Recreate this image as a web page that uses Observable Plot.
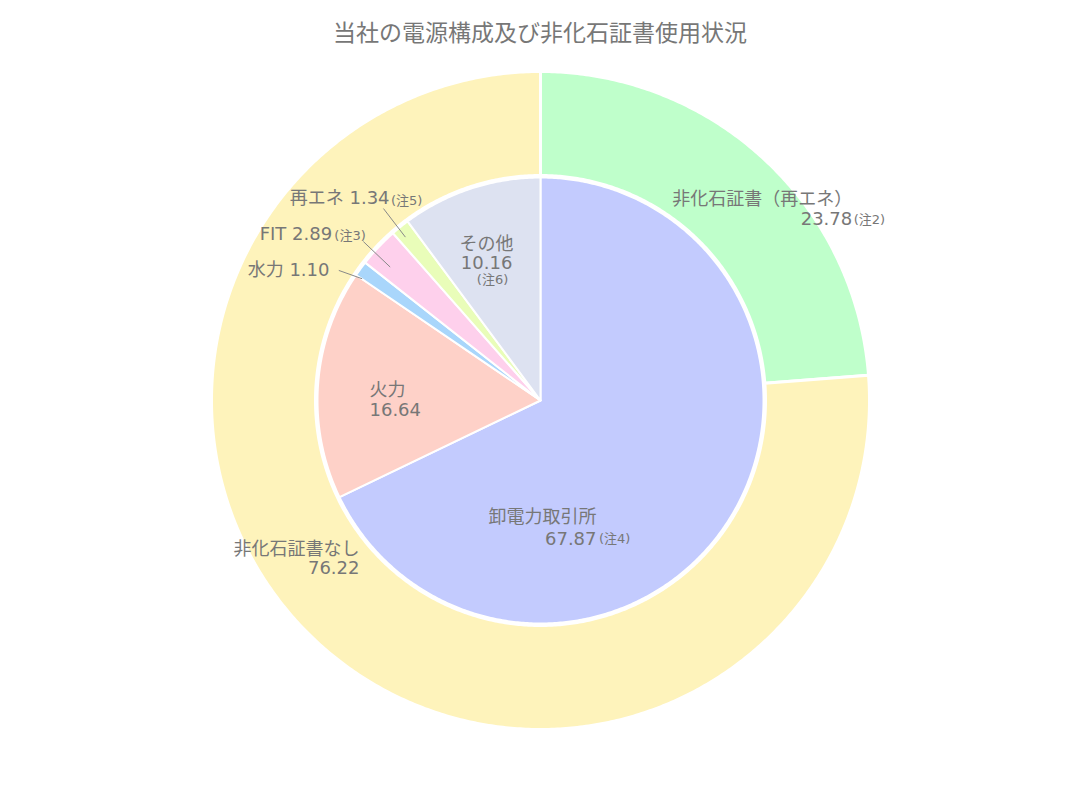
<!DOCTYPE html>
<html><head><meta charset="utf-8">
<script src="https://cdn.jsdelivr.net/npm/d3@7"></script>
<script src="https://cdn.jsdelivr.net/npm/@observablehq/plot@0.6"></script>
<style>
body{margin:0;background:#fff;font-family:"DejaVu Sans","Noto Sans CJK JP",sans-serif;}
#title{width:1080px;height:60px;box-sizing:border-box;padding-top:6px;text-align:center;font-size:23px;color:#777;line-height:54px;}
</style></head><body>
<div id="title">当社の電源構成及び非化石証書使用状況</div>
<div id="chart"></div>
<script>
// ---- data ----
const outerLabels = ["非化石証書（再エネ）", "非化石証書なし"];
const outerValues = [23.78, 76.22];
const outerNotes  = ["(注2)", ""];
const innerLabels = ["卸電力取引所", "火力", "水力", "FIT", "再エネ", "その他"];
const innerValues = [67.87, 16.64, 1.10, 2.89, 1.34, 10.16];
const innerNotes  = ["(注4)", "", "", "(注3)", "(注5)", "(注6)"];

// ---- style / layout ----
const FONT = '"DejaVu Sans","Noto Sans CJK JP",sans-serif';
const outerColors = ["#bfffcb", "#fef3bb"];
const innerColors = ["#c3cbfe", "#fed1c8", "#a9d6fb", "#fed0ec", "#e9fdb9", "#dde2f1"];
const R_PIE = 223, R_RING_IN = 225, R_RING_OUT = 329;
const LABEL_R_INNER = 140, LABEL_R_OUTER = 277;
const TEXT = "#777";
// block: [anchor, dx, dy, lineHeight(em)] relative to slice centroid; note: [anchor, dx, dy]
const outerLayout = [
  {block: ["end", 123.5, 10.95, 1.14], note: ["start", 125, 22.2]},
  {block: ["end", 7.2, -45.4, 1.06], note: null}
];
const innerLayout = [
  {block: ["end", -62.5, 51.65, 1.25], note: ["start", -60, 63.9]},
  {block: ["start", -31.4, 10, 1.1], note: null},
  {outside: true, lead: [-1.9, 216, -3.4, 240], text: ["end", -9.3, 0], note: null},
  {outside: true, lead: [-1.8, 201, -1.5, 238], text: ["end", -31.2, -7.8], note: ["start", -29, -6.1]},
  {outside: true, lead: [-0.6, 212, -0.3, 248], text: ["end", 6.1, -10.4], note: ["start", 7.5, -8.1]},
  {block: ["middle", -10, -14.5, 1.1], note: ["middle", -4, 12.5]}
];

const pie = d3.pie().sort(null).startAngle(0).endAngle(2 * Math.PI);
const outerArcs = pie(outerValues);
const innerArcs = pie(innerValues);
const polar = (a, r) => [r * Math.sin(a), -r * Math.cos(a)];
const deg = Math.PI / 180;

function slicePoly(key, a0, a1, r0, r1) {
  const pts = [];
  const n = Math.max(2, Math.ceil((a1 - a0) / (0.5 * deg)));
  for (let i = 0; i <= n; i++) { const [x, y] = polar(a0 + (a1 - a0) * i / n, r1); pts.push({key, x, y}); }
  if (r0 > 0) for (let i = n; i >= 0; i--) { const [x, y] = polar(a0 + (a1 - a0) * i / n, r0); pts.push({key, x, y}); }
  else pts.push({key, x: 0, y: 0});
  return pts;
}
const ringPts = outerArcs.flatMap((a, i) => slicePoly(outerLabels[i], a.startAngle, a.endAngle, R_RING_IN, R_RING_OUT));
const piePts = innerArcs.flatMap((a, i) => slicePoly(innerLabels[i], a.startAngle, a.endAngle, 0, R_PIE));

const fmt = v => v.toFixed(2);
const textMarks = [];
const notePieces = [], leaders = [], outsidePieces = [];
function addInside(arc, r, label, value, note, lay) {
  const mid = (arc.startAngle + arc.endAngle) / 2;
  const [ax, ay] = polar(mid, r);
  const [anc, dx, dy, lh] = lay.block;
  textMarks.push(Plot.text([{t: label + "\n" + fmt(value), x: ax + dx, y: ay + dy}],
    {x: "x", y: "y", text: "t", textAnchor: anc, lineHeight: lh, fontSize: 18, fill: TEXT}));
  if (lay.note && note) notePieces.push({t: note, anc: lay.note[0], x: ax + lay.note[1], y: ay + lay.note[2]});
}
outerArcs.forEach((a, i) => addInside(a, LABEL_R_OUTER, outerLabels[i], outerValues[i], outerNotes[i], outerLayout[i]));
innerArcs.forEach((a, i) => {
  const lay = innerLayout[i];
  if (!lay.outside) return addInside(a, LABEL_R_INNER, innerLabels[i], innerValues[i], innerNotes[i], lay);
  const mid = (a.startAngle + a.endAngle) / 2;
  const [s0, rs, e0, re] = lay.lead;
  const [x1, y1] = polar(mid + s0 * deg, rs);
  const [x2, y2] = polar(mid + e0 * deg, re);
  leaders.push({x1, y1, x2, y2});
  outsidePieces.push({t: innerLabels[i] + " " + fmt(innerValues[i]), x: x2 + lay.text[1], y: y2 + lay.text[2]});
  if (lay.note && innerNotes[i]) notePieces.push({t: innerNotes[i], anc: lay.note[0], x: x2 + lay.note[1], y: y2 + lay.note[2]});
});
textMarks.push(Plot.text(outsidePieces, {x: "x", y: "y", text: "t", textAnchor: "end", fontSize: 18, fill: TEXT}));
for (const anc of ["start", "middle", "end"]) {
  textMarks.push(Plot.text(notePieces.filter(d => d.anc === anc), {x: "x", y: "y", text: "t", textAnchor: anc, fontSize: 13, fill: TEXT}));
}

const chart = Plot.plot({
  width: 1080, height: 740, margin: 0,
  x: {domain: [-540, 540], range: [0, 1080], axis: null},
  y: {domain: [-340, 400], range: [0, 740], axis: null},
  color: {domain: [...outerLabels, ...innerLabels], range: [...outerColors, ...innerColors]},
  style: {fontFamily: FONT, background: "white"},
  marks: [
    Plot.line(ringPts, {x: "x", y: "y", z: "key", fill: "key", stroke: "white", strokeWidth: 3, strokeLinejoin: "round", curve: "linear-closed"}),
    Plot.line(piePts, {x: "x", y: "y", z: "key", fill: "key", stroke: "white", strokeWidth: 2, strokeLinejoin: "round", curve: "linear-closed"}),
    Plot.link(leaders, {x1: "x1", y1: "y1", x2: "x2", y2: "y2", stroke: "#888", strokeWidth: 1}),
    ...textMarks
  ]
});
document.getElementById("chart").appendChild(chart);
</script>
</body></html>
